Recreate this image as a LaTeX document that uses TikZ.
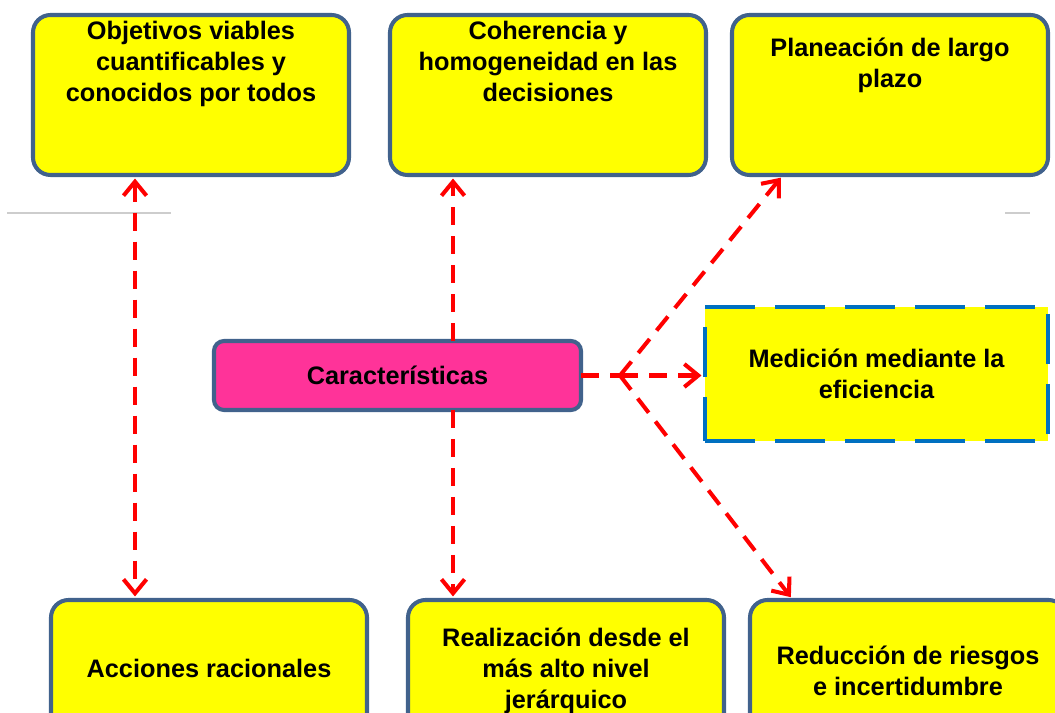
\documentclass[tikz,border=0pt]{standalone}
\usepackage{fontspec}
\setmainfont{Liberation Sans}
\usepackage{xcolor}
\usepackage{tikz}
\usetikzlibrary{arrows.meta, positioning}
\definecolor{Amarillo}  {RGB}{255,255,  0}
\definecolor{Rosa}      {RGB}{255, 51,153}
\definecolor{BordeAzul} {RGB}{ 65, 98,140}
\definecolor{AzulMedida}{RGB}{  0,112,192}
\definecolor{RojoFlecha}{RGB}{255,  0,  0}
\definecolor{GrisTenue} {RGB}{205,205,205}
\newcommand{\textocaja}[2]{\parbox[c][3.2cm][t]{6.1cm}{\vspace*{#1}\centering #2}}

\begin{document}
\begin{tikzpicture}[font=\fontsize{14.4}{17.6}\selectfont\bfseries,
    caja/.style={draw=BordeAzul,line width=2.3pt,fill=Amarillo,rounded corners=0.35cm,minimum width=6.32cm,minimum height=3.2cm,inner sep=0pt,outer sep=0pt},
    flecha/.style={RojoFlecha,line width=2.3pt,dash pattern=on 3.6mm off 2.2mm},
    >={Straight Barb[length=2.8mm,width=4.6mm]}]
      \path[use as bounding box,clip] (0,0) rectangle (21.1,14.26);
      \draw[GrisTenue,line width=0.8pt] (0.14,10) -- (3.42,10);
      \draw[GrisTenue,line width=0.8pt] (20.1,10) -- (20.6,10);
      % fila de arriba
      \node[caja] (obj) at (3.82,12.36) {\textocaja{0.12cm}{Objetivos viables\\cuantificables y\\conocidos por todos}};
      \node[caja,right=0.82cm of obj] (coh) {\textocaja{0.12cm}{Coherencia y\\homogeneidad en las\\decisiones}};
      \node[caja,right=0.52cm of coh] (plan) {\textocaja{0.46cm}{Planeación de largo\\plazo}};
      % fila de abajo
      \node[caja] (acc) at (4.18,0.66) {\textocaja{1.18cm}{Acciones racionales}};
      \node[caja,right=0.82cm of acc] (real) {\textocaja{0.56cm}{Realización desde el\\más alto nivel\\jerárquico}};
      \node[caja,right=0.52cm of real] (red) {\textocaja{0.92cm}{Reducción de riesgos\\e incertidumbre}};
      % centro
      \node[draw=BordeAzul,line width=2.3pt,fill=Rosa,rounded corners=0.2cm,minimum width=7.34cm,minimum height=1.38cm,outer sep=0pt] (car) at (7.95,6.75) {Características};
      \node[draw=AzulMedida,line width=2.8pt,dash pattern=on 1cm off 0.4cm,fill=Amarillo,minimum width=6.86cm,minimum height=2.68cm,align=center,outer sep=0pt] (med) at (17.53,6.78) {Medición mediante la\\eficiencia};
      \coordinate (rama) at (12.4,6.75);
      \coordinate (ejeIzq) at (2.7,0);
      \coordinate (ejeCen) at (9.06,0);
      \coordinate (pPlan) at (15.66,0);
      \coordinate (pRed) at (15.86,0);
      \draw[flecha,<->,shorten <=2pt,shorten >=2pt] (obj.south -| ejeIzq) -- (acc.north -| ejeIzq);
      \draw[flecha,->,shorten >=2pt] (car.north -| ejeCen) -- (coh.south -| ejeCen);
      \draw[flecha,->,shorten >=2pt] (car.south -| ejeCen) -- (real.north -| ejeCen);
      \draw[flecha] (car.east) -- (rama);
      \draw[flecha,->,shorten >=2pt] (rama) -- (med.west |- rama);
      \draw[flecha,->,shorten >=2pt] (rama) -- (plan.south -| pPlan);
      \draw[flecha,->,shorten >=2pt] (rama) -- (red.north -| pRed);
    \end{tikzpicture}
\end{document}
